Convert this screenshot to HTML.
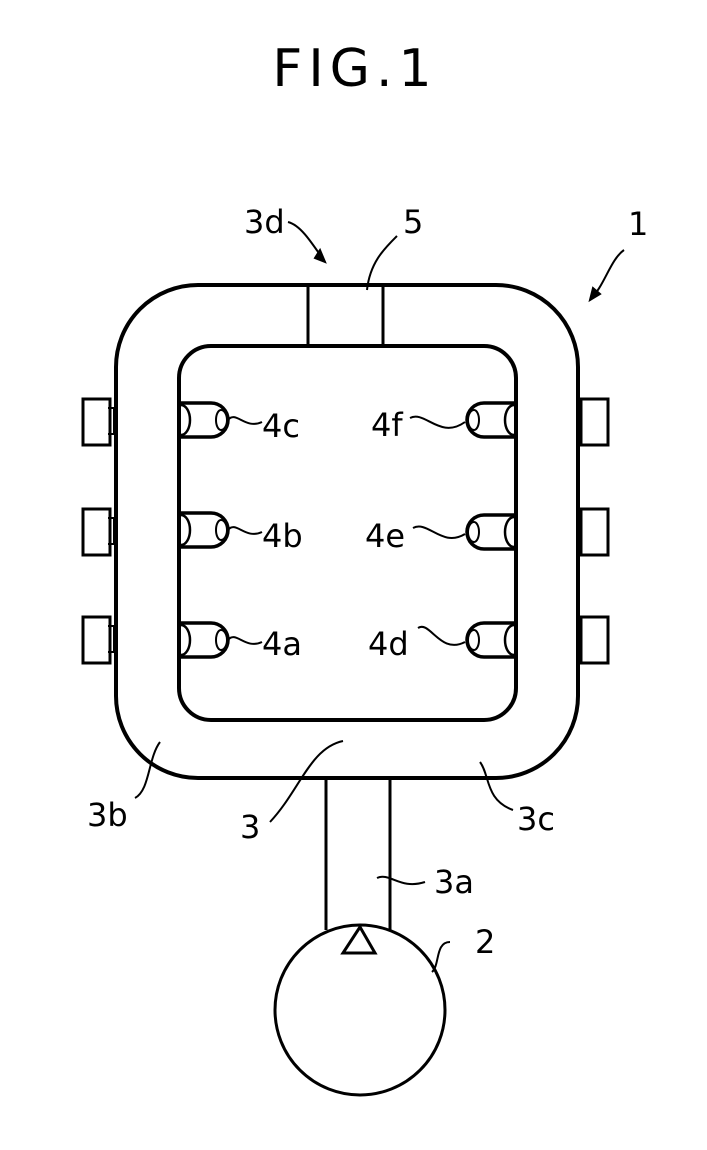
<!DOCTYPE html>
<html><head><meta charset="utf-8"><style>
html,body{margin:0;padding:0;background:#fff}
svg{display:block}
text{font-family:"DejaVu Sans","Liberation Sans",sans-serif;fill:#000}
</style></head><body>
<svg width="707" height="1150" viewBox="0 0 707 1150" xmlns="http://www.w3.org/2000/svg">
<defs>
<g id="injL" fill="none" stroke="#000">
  <path d="M0,-17 H30 A17,17 0 0 1 30,17 H0" stroke-width="3.5"/>
  <path d="M0,-15 A9,15 0 0 1 0,15" stroke-width="2.5"/>
  <path d="M40,-10 A5,10 0 0 0 40,10" stroke-width="2"/>
  <path d="M40,-10 A6,10 0 0 1 40,10" stroke-width="2"/>
</g>
<g id="box" fill="none" stroke="#000" stroke-width="3">
  <rect x="0" y="-23" width="27" height="46"/>
</g>
</defs>
<text x="355" y="86" font-size="52" text-anchor="middle" letter-spacing="6">FIG.1</text>

<rect x="116" y="285" width="462" height="493" rx="82" ry="82" fill="none" stroke="#000" stroke-width="4"/>
<rect x="179" y="346" width="337" height="374" rx="32" ry="32" fill="none" stroke="#000" stroke-width="4"/>
<line x1="308" y1="285" x2="308" y2="346" stroke="#000" stroke-width="3"/>
<line x1="383" y1="285" x2="383" y2="346" stroke="#000" stroke-width="3"/>
<line x1="326" y1="778" x2="326" y2="930" stroke="#000" stroke-width="3"/>
<line x1="390" y1="778" x2="390" y2="930" stroke="#000" stroke-width="3"/>
<circle cx="360" cy="1010" r="85" fill="none" stroke="#000" stroke-width="3"/>
<path d="M360,927 L343,953 L375,953 Z" fill="none" stroke="#000" stroke-width="3"/>

<use href="#injL" transform="translate(181,420)"/>
<use href="#injL" transform="translate(181,530)"/>
<use href="#injL" transform="translate(181,640)"/>
<use href="#injL" transform="translate(514,420) scale(-1,1)"/>
<use href="#injL" transform="translate(514,532) scale(-1,1)"/>
<use href="#injL" transform="translate(514,640) scale(-1,1)"/>
<use href="#box" transform="translate(83,422)"/>
<use href="#box" transform="translate(83,532)"/>
<use href="#box" transform="translate(83,640)"/>
<use href="#box" transform="translate(581,422)"/>
<use href="#box" transform="translate(581,532)"/>
<use href="#box" transform="translate(581,640)"/>
<g fill="none" stroke="#000" stroke-width="2">
<path d="M108,408 h6 v26 h-6"/><path d="M108,518 h6 v26 h-6"/><path d="M108,626 h6 v26 h-6"/>
</g>

<g fill="none" stroke="#000" stroke-width="2">
<path d="M228,420 C236,410 245,430 262,422"/>
<path d="M228,530 C236,520 245,540 262,532"/>
<path d="M228,640 C236,630 245,650 262,642"/>
<path d="M410,418 C425,410 440,440 465,422"/>
<path d="M413,528 C428,520 442,548 465,534"/>
<path d="M418,628 C430,620 440,655 465,642"/>
<path d="M288,222 C300,225 310,240 325,262"/>
<path d="M325,262 l-10,-4 l5,-8 z" fill="#000"/>
<path d="M397,236 C385,248 370,262 367,290"/>
<path d="M624,250 C610,260 605,285 590,300"/>
<path d="M590,300 l3,-12 l7,6 z" fill="#000"/>
<path d="M160,742 C148,758 150,790 135,798"/>
<path d="M343,741 C310,748 300,790 270,822"/>
<path d="M480,762 C490,775 485,800 513,810"/>
<path d="M377,878 C390,872 400,890 425,882"/>
<path d="M450,942 C435,942 440,965 432,972"/>
</g>

<g font-size="32">
<text x="262" y="437">4c</text>
<text x="262" y="547">4b</text>
<text x="262" y="655">4a</text>
<text x="371" y="436">4f</text>
<text x="365" y="547">4e</text>
<text x="368" y="655">4d</text>
<text x="244" y="233">3d</text>
<text x="403" y="233">5</text>
<text x="628" y="235">1</text>
<text x="87" y="826">3b</text>
<text x="240" y="838">3</text>
<text x="517" y="830">3c</text>
<text x="434" y="893">3a</text>
<text x="475" y="953">2</text>
</g>
</svg>
</body></html>
